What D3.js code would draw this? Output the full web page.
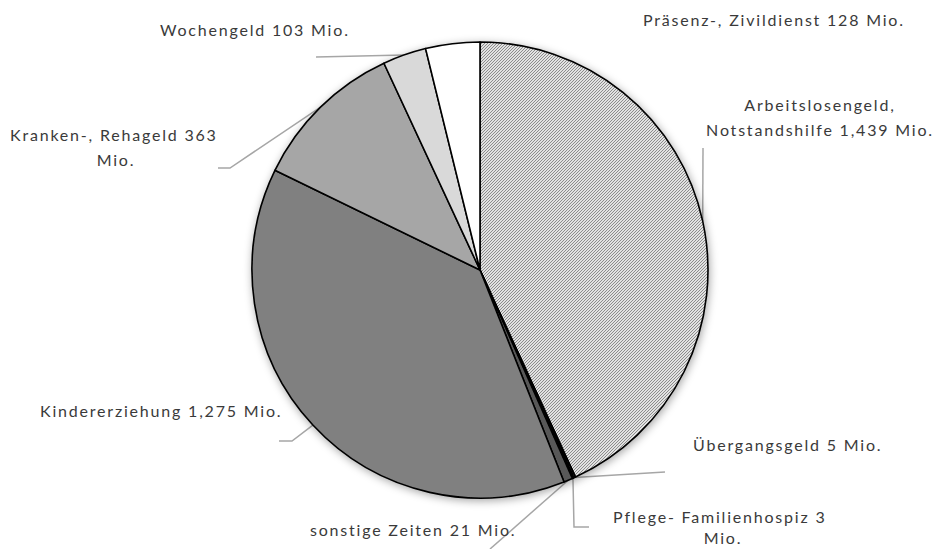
<!DOCTYPE html>
<html>
<head>
<meta charset="utf-8">
<script src="https://cdn.jsdelivr.net/npm/d3@7"></script>
<style>
  html, body { margin: 0; padding: 0; background: #fff; }
  svg { display: block; }
  .lbl { font-family: "Lato", "Open Sans", sans-serif; font-size: 16px; fill: #3a3a3a; letter-spacing: 1.8px; }
</style>
</head>
<body>
<svg id="chart" width="933" height="549"></svg>
<script>
// Versicherungszeiten: Beiträge in Mio. (im Uhrzeigersinn ab 12 Uhr)
const categories = [
  "Arbeitslosengeld, Notstandshilfe",
  "Übergangsgeld",
  "Pflege- Familienhospiz",
  "sonstige Zeiten",
  "Kindererziehung",
  "Kranken-, Rehageld",
  "Wochengeld",
  "Präsenz-, Zivildienst"
];
const values = [1439, 5, 3, 21, 1275, 363, 103, 128];
const labelLines = [
  ["Arbeitslosengeld,", "Notstandshilfe 1,439 Mio."],
  ["Übergangsgeld  5 Mio."],
  ["Pflege- Familienhospiz  3", "Mio."],
  ["sonstige Zeiten 21 Mio."],
  ["Kindererziehung  1,275 Mio."],
  ["Kranken-, Rehageld  363", "Mio."],
  ["Wochengeld  103 Mio."],
  ["Präsenz-, Zivildienst 128 Mio."]
];
const fills = ["url(#hatch)", "#1a1a1a", "#262626", "#595959", "#808080", "#a6a6a6", "#d9d9d9", "#ffffff"];

// Label placement: text anchor point, line gap and leader polyline (the arc end is computed)
const layout = [
  { x: 820, y: 111, gap: 25, anchor: "middle", leader: [[703, 148]] },
  { x: 693, y: 451, gap: 25, anchor: "start",  leader: [[665, 472]] },
  { x: 613, y: 523, gap: 21, anchor: "start",  leader: [[589, 527], [574, 527]], multiCenter: 723 },
  { x: 310, y: 536, gap: 25, anchor: "start",  leader: [[490, 549]] },
  { x: 40,  y: 417, gap: 25, anchor: "start",  leader: [[279, 441], [292, 441]] },
  { x: 10,  y: 141, gap: 25, anchor: "start",  leader: [[218, 168], [230, 168]], multiCenter: 116 },
  { x: 160, y: 36,  gap: 25, anchor: "start",  leader: [[316, 57]] },
  { x: 643, y: 26,  gap: 25, anchor: "start",  leader: null }
];

const cx = 480, cy = 270, r = 228;
const svg = d3.select("#chart");
const defs = svg.append("defs");

const pat = defs.append("pattern")
  .attr("id", "hatch").attr("patternUnits", "userSpaceOnUse")
  .attr("width", 3).attr("height", 3);
pat.append("rect").attr("width", 3).attr("height", 3).attr("fill", "#e2e2e2");
pat.append("path").attr("d", "M-1,1 l2,-2 M0,3 l3,-3 M2,4 l2,-2")
  .attr("stroke", "#8c8c8c").attr("stroke-width", 1);

const shadow = defs.append("filter").attr("id", "shadow")
  .attr("x", "-20%").attr("y", "-20%").attr("width", "140%").attr("height", "140%");
shadow.append("feDropShadow").attr("dx", 1).attr("dy", 2)
  .attr("stdDeviation", 4).attr("flood-color", "#000").attr("flood-opacity", 0.35);

const pie = d3.pie().sort(null).value(d => d)(values);
const arc = d3.arc().innerRadius(0).outerRadius(r);

// leader lines (drawn beneath the pie)
const edgePoint = d => {
  const a = (d.startAngle + d.endAngle) / 2;
  return [cx + r * Math.sin(a), cy - r * Math.cos(a)];
};
const line = d3.line();
svg.append("g").selectAll("path")
  .data(pie.filter((d, i) => layout[i].leader))
  .join("path")
  .attr("d", d => line([...layout[d.index].leader, edgePoint(d)]))
  .attr("fill", "none").attr("stroke", "#a6a6a6").attr("stroke-width", 1.5);

const g = svg.append("g").attr("transform", `translate(${cx},${cy})`)
  .attr("filter", "url(#shadow)");
g.selectAll("path").data(pie).join("path")
  .attr("d", arc)
  .attr("fill", (d, i) => fills[i])
  .attr("stroke", "#000").attr("stroke-width", 1.6).attr("stroke-linejoin", "round");

// labels
const labels = svg.append("g");
pie.forEach((d, i) => {
  const L = layout[i];
  const t = labels.append("text").attr("class", "lbl");
  labelLines[i].forEach((s, k) => {
    const ts = t.append("tspan").attr("y", L.y + k * L.gap).text(s);
    if (L.anchor === "middle") {
      ts.attr("x", L.x).attr("text-anchor", "middle");
    } else if (k > 0 && L.multiCenter) {
      ts.attr("x", L.multiCenter).attr("text-anchor", "middle");
    } else {
      ts.attr("x", L.x);
    }
  });
});
</script>
</body>
</html>
